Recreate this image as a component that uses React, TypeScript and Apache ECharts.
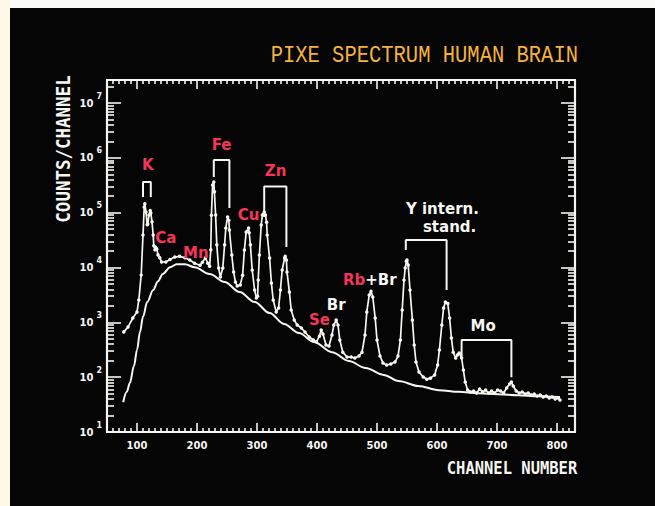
import React, { useEffect, useRef } from "react";
import * as echarts from "echarts";

// ---------- data ----------
const measuredCh = [
  78, 85, 93, 100, 103, 107, 110, 112, 113, 115,
  117, 118, 120, 122, 123, 125, 127, 128, 130, 131,
  133, 135, 138, 141, 148, 155, 163, 171, 180, 188,
  196, 205, 209, 214, 218, 221, 223, 224, 226, 228,
  229, 231, 233, 236, 239, 243, 246, 248, 251, 253,
  254, 258, 261, 264, 267, 272, 276, 279, 282, 286,
  287, 289, 292, 296, 299, 301, 302, 304, 307, 309,
  312, 314, 316, 317, 321, 324, 327, 332, 336, 339,
  342, 346, 347, 349, 350, 354, 357, 362, 367, 374,
  380, 387, 394, 399, 404, 407, 410, 415, 420, 425,
  428, 432, 435, 438, 443, 450, 457, 463, 470, 475,
  480, 483, 487, 490, 493, 497, 500, 505, 510, 516,
  523, 530, 535, 539, 542, 545, 547, 549, 550, 552,
  555, 559, 562, 565, 570, 577, 583, 589, 596, 601,
  604, 608, 611, 614, 618, 621, 624, 627, 631, 634,
  637, 641, 644, 647, 651, 656, 661, 666, 671, 676,
  681, 686, 691, 696, 701, 706, 711, 716, 721, 724,
  727, 732, 737, 742, 747, 752, 757, 762, 767, 772,
  777, 782, 787, 792, 797, 802, 805,
];
const measuredCounts = [
  670, 820, 1200, 1550, 2550, 7300, 39000, 127000, 145000, 103000,
  60000, 62000, 91000, 110000, 99000, 68000, 39000, 25000, 21000, 23500,
  21800, 17000, 15000, 12600, 12600, 14000, 15500, 16000, 15000, 13700,
  12000, 11000, 12500, 15000, 12000, 10500, 21000, 90000, 320000, 363000,
  240000, 91000, 26000, 9800, 6700, 9800, 26000, 52600, 83400, 73000,
  48300, 16900, 8300, 5440, 4600, 4800, 7200, 20900, 44400, 52600,
  43000, 26000, 9000, 3890, 2770, 3000, 5900, 16900, 59600, 90700,
  103000, 90700, 67000, 39200, 14900, 5220, 2550, 1550, 1830, 3890,
  9000, 14900, 16000, 13700, 8300, 3570, 1680, 1100, 894, 790,
  667, 540, 476, 440, 560, 725, 613, 386, 370, 588,
  894, 1100, 894, 476, 286, 233, 233, 224, 243, 286,
  588, 1550, 3150, 3700, 2900, 1200, 476, 243, 181, 167,
  174, 189, 243, 476, 1680, 5920, 9800, 13000, 13700, 11100,
  3890, 1100, 386, 189, 124, 101, 92, 96, 110, 167,
  313, 894, 1830, 2350, 2200, 1200, 518, 286, 224, 254,
  275, 224, 135, 81.6, 58.3, 53.7, 56, 51.4, 60.5, 53.7,
  58.3, 51.4, 56, 51.4, 58.3, 56, 51.4, 63.5, 75, 81.6,
  69, 56, 51.4, 53.7, 49.3, 51.4, 47.3, 49.3, 45.4, 47.3,
  43.5, 45.4, 41.7, 43.5, 40, 41.7, 38.3,
];

const backgroundCh = [
  77, 83, 88, 95, 100, 105, 110, 117, 127, 135,
  143, 155, 166, 180, 196, 221, 246, 271, 296, 321,
  345, 370, 395, 425, 453, 481, 511, 536, 569, 603,
  636, 669, 702, 735, 768, 805,
];
const backgroundCounts = [
  35, 54, 78, 160, 313, 667, 1260, 2350, 3900, 5600,
  7600, 10100, 11500, 11500, 10100, 7600, 5440, 3570, 2350, 1480,
  935, 640, 440, 286, 197, 147, 110, 85, 69, 58,
  54, 51, 49, 47, 45, 43.5,
];

const kBracketCh = [110, 110, 123, 123];
const kBracketCounts = [193000, 363000, 363000, 193000];
const feBracketCh = [228, 228, 254, 254];
const feBracketCounts = [448000, 914000, 914000, 122000];
const znBracketCh = [312, 312, 349, 349];
const znBracketCounts = [83000, 300000, 300000, 23700];
const yBracketCh = [548, 548, 616, 616];
const yBracketCounts = [20900, 31800, 31800, 3890];
const moBracketCh = [641, 641, 724, 724];
const moBracketCounts = [233, 476, 476, 100];

const labelNames = ["K", "Ca", "Mn", "Fe", "Cu", "Zn", "Se", "Br", "Rb+Br", "Y intern.", "stand.", "Mo"];
const labelCh = [118, 148, 198, 241, 286, 331, 404, 432, 488, 609, 621, 677];
const labelCounts = [741000, 34500, 18400, 1710000, 90700, 576000, 1100, 2070, 5920, 117000, 54800, 857];
const redLabels = ["K", "Ca", "Mn", "Fe", "Cu", "Zn", "Se"];

const xTickLabels = [100, 200, 300, 400, 500, 600, 700, 800];
const yDecadeTicks = [10, 100, 1000, 10000, 100000, 1000000, 10000000];

// ---------- styles ----------
const X_MIN = 50;
const X_MAX = 830;
const Y_MIN = 10;
const Y_MAX = 2.63e7;
const WHITE = "#f6f6f2";
const RED = "#f5365c";
const ORANGE = "#f5b33c";
const LABEL_FONT = "DejaVu Sans";

const xMinorTicks: number[] = [];
for (let v = 60; v <= 820; v += 10) if (v % 100 !== 0) xMinorTicks.push(v);
const yMinorTicks: number[] = [];
for (const d of yDecadeTicks) for (let m = 2; m <= 9; m++) if (d * m <= Y_MAX) yMinorTicks.push(d * m);

const zip = (a: number[], b: number[]) => a.map((x, i) => [x, b[i]]);

function xAxisDef(position: string, ticks: number[], len: number, line: boolean, labels: boolean) {
  return {
    type: "value",
    min: X_MIN,
    max: X_MAX,
    position,
    axisLine: { show: line, onZero: false, lineStyle: { color: WHITE, width: 2.2 } },
    axisTick: { show: true, inside: true, length: len, customValues: ticks, lineStyle: { color: WHITE, width: 1.6 } },
    axisLabel: labels
      ? {
          show: true,
          customValues: xTickLabels,
          margin: 8,
          color: WHITE,
          fontSize: 10,
          fontWeight: "bold",
          fontFamily: LABEL_FONT,
          formatter: (v: number) => String(v),
        }
      : { show: false },
    splitLine: { show: false },
  };
}

function yAxisDef(position: string, ticks: number[], len: number, line: boolean, labels: boolean) {
  return {
    type: "log",
    logBase: 10,
    min: Y_MIN,
    max: Y_MAX,
    position,
    axisLine: { show: line, onZero: false, lineStyle: { color: WHITE, width: 2.2 } },
    axisTick: { show: true, inside: true, length: len, customValues: ticks, lineStyle: { color: WHITE, width: 1.6 } },
    axisLabel: labels
      ? {
          show: true,
          customValues: yDecadeTicks,
          margin: 5,
          formatter: (v: number) => `{b|10}{s|${Math.round(Math.log10(v))}}`,
          rich: {
            b: { fontSize: 10, fontWeight: "bold", color: WHITE, fontFamily: LABEL_FONT, lineHeight: 22, verticalAlign: "middle" },
            s: { fontSize: 8, fontWeight: "bold", color: WHITE, fontFamily: LABEL_FONT, verticalAlign: "top", padding: [0, 0, 0, 3] },
          },
        }
      : { show: false },
    splitLine: { show: false },
  };
}

const bracketSeries = [
  [kBracketCh, kBracketCounts],
  [feBracketCh, feBracketCounts],
  [znBracketCh, znBracketCounts],
  [yBracketCh, yBracketCounts],
  [moBracketCh, moBracketCounts],
].map(([c, n]) => ({
  type: "line",
  data: zip(c, n),
  symbol: "none",
  silent: true,
  lineStyle: { color: WHITE, width: 2 },
  z: 4,
}));

const noBorder = { textBorderWidth: 0, textBorderColor: "transparent", textShadowBlur: 0, opacity: 1 };

const labelData = labelNames.map((name, i) => {
  const item: any = { name, value: [labelCh[i], labelCounts[i]] };
  if (name === "Rb+Br") {
    item.label = {
      formatter: "{r|Rb}{w|+Br}",
      rich: {
        r: { color: RED, fontSize: 15, fontWeight: "bold", fontFamily: LABEL_FONT, ...noBorder },
        w: { color: WHITE, fontSize: 15, fontWeight: "bold", fontFamily: LABEL_FONT, ...noBorder },
      },
    };
  } else {
    item.label = { color: redLabels.includes(name) ? RED : WHITE, ...noBorder };
  }
  return item;
});

const option: any = {
  animation: false,
  backgroundColor: "#050505",
  grid: { left: 107, right: 80, top: 80, bottom: 74, containLabel: false },
  xAxis: [
    xAxisDef("bottom", xMinorTicks, 4, true, true),
    xAxisDef("bottom", xTickLabels, 9, false, false),
    xAxisDef("top", xMinorTicks, 4, true, false),
    xAxisDef("top", xTickLabels, 9, false, false),
  ],
  yAxis: [
    yAxisDef("left", yDecadeTicks, 14, true, true),
    yAxisDef("left", yMinorTicks, 7, false, false),
    yAxisDef("right", yDecadeTicks, 14, true, false),
    yAxisDef("right", yMinorTicks, 7, false, false),
  ],
  graphic: [
    { type: "rect", z: 100, shape: { x: 0, y: 0, width: 655, height: 8 }, style: { fill: "#fafaf6" } },
    { type: "rect", z: 100, shape: { x: 0, y: 0, width: 10, height: 506 }, style: { fill: "#fdf8e8" } },
    {
      type: "text",
      x: 578,
      y: 56,
      scaleY: 1.17,
      style: {
        text: "PIXE SPECTRUM HUMAN BRAIN",
        fill: ORANGE,
        font: '20.5px "Liberation Mono"',
        align: "right",
        verticalAlign: "middle",
      },
    },
    {
      type: "text",
      x: 63,
      y: 149,
      rotation: Math.PI / 2,
      scaleY: 1.1,
      style: {
        text: "COUNTS/CHANNEL",
        fill: WHITE,
        font: 'bold 17.5px "DejaVu Sans Mono"',
        align: "center",
        verticalAlign: "middle",
      },
    },
    {
      type: "text",
      x: 512,
      y: 468,
      scaleY: 1.15,
      style: {
        text: "CHANNEL NUMBER",
        fill: WHITE,
        font: 'bold 15.5px "DejaVu Sans Mono"',
        align: "center",
        verticalAlign: "middle",
      },
    },
  ],
  series: [
    {
      type: "line",
      name: "background",
      data: zip(backgroundCh, backgroundCounts),
      symbol: "none",
      smooth: 0.35,
      smoothMonotone: "x",
      silent: true,
      lineStyle: { color: WHITE, width: 2 },
      z: 3,
    },
    {
      type: "line",
      name: "spectrum",
      data: zip(measuredCh, measuredCounts),
      symbol: "circle",
      symbolSize: 3.5,
      showSymbol: true,
      showAllSymbol: true,
      silent: true,
      itemStyle: { color: WHITE },
      lineStyle: { color: WHITE, width: 1.7 },
      z: 4,
    },
    ...bracketSeries,
    {
      type: "scatter",
      data: labelData,
      symbolSize: 0,
      silent: true,
      z: 6,
      itemStyle: { color: "rgba(0,0,0,0)", opacity: 1 },
      label: {
        show: true,
        position: "inside",
        formatter: "{b}",
        fontSize: 15,
        fontWeight: "bold",
        fontFamily: LABEL_FONT,
        color: WHITE,
        ...noBorder,
      },
    },
  ],
};

export default function App() {
  const ref = useRef<HTMLDivElement>(null);
  useEffect(() => {
    if (!ref.current) return;
    const chart = echarts.init(ref.current, null, { renderer: "svg" });
    chart.setOption(option);
    return () => chart.dispose();
  }, []);
  return <div ref={ref} style={{ position: "absolute", left: 0, top: 0, width: 655, height: 506 }} />;
}
